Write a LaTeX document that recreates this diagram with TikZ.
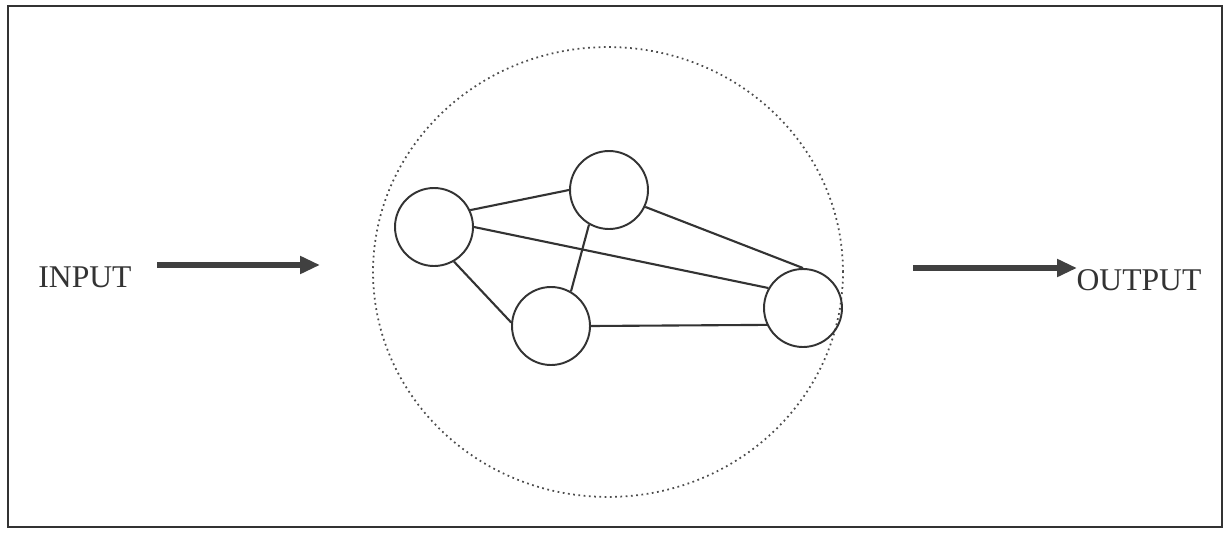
\documentclass[tikz,border=0pt]{standalone}
\usepackage{fontspec}
\setmainfont{Liberation Serif}
\usepackage{tikz}
\usetikzlibrary{positioning, arrows.meta, shapes.geometric}

\begin{document}
\begin{tikzpicture}[
    x=0.02cm, y=-0.02cm,
    unit/.style={circle, draw=black!80, minimum size=1.56cm, line width=1.1pt, inner sep=0pt},
    label/.style={font=\fontsize{18}{21}\selectfont, text=black!80, inner sep=0pt},
    flow/.style={-{Triangle[length=0.4cm, width=0.34cm]}, line width=3.4pt, draw=black!75},
    link/.style={line width=1.2pt, draw=black!80}
]
    \useasboundingbox (0,0) rectangle (1228,534);

    % Outer frame
    \draw[line width=1.1pt, black!80] (8,6) rectangle (1222,527);

    % Dotted boundary of the network
    \node[ellipse, draw=black!70, dotted, line width=1pt,
          minimum width=9.4cm, minimum height=9cm] (net) at (608,272) {};

    % Units of the network
    \node[unit] (a) at (434,227) {};
    \node[unit] (b) at (609,190) {};
    \node[unit] (c) at (551,326) {};
    \node[unit] (d) at (803,308) {};

    % Links between the units
    \draw[link] (a.25) -- (b.west);
    \draw[link] (a.300) -- (c.175);
    \draw[link] (a.east) -- (d.150);
    \draw[link] (b.240) -- (c.60);
    \draw[link] (b.335) -- (d.north);
    \draw[link] (c.east) -- (d.205);

    % Input side
    \node[label] (input) at (85,277) {INPUT};
    \coordinate (inS) at (157,265);
    \coordinate (inE) at (320,265);
    \draw[flow] (inS) -- (inE);

    % Output side
    \node[label] (output) at (1139,280) {OUTPUT};
    \coordinate (outS) at (913,268);
    \coordinate (outE) at (1077,268);
    \draw[flow] (outS) -- (outE);
\end{tikzpicture}
\end{document}
